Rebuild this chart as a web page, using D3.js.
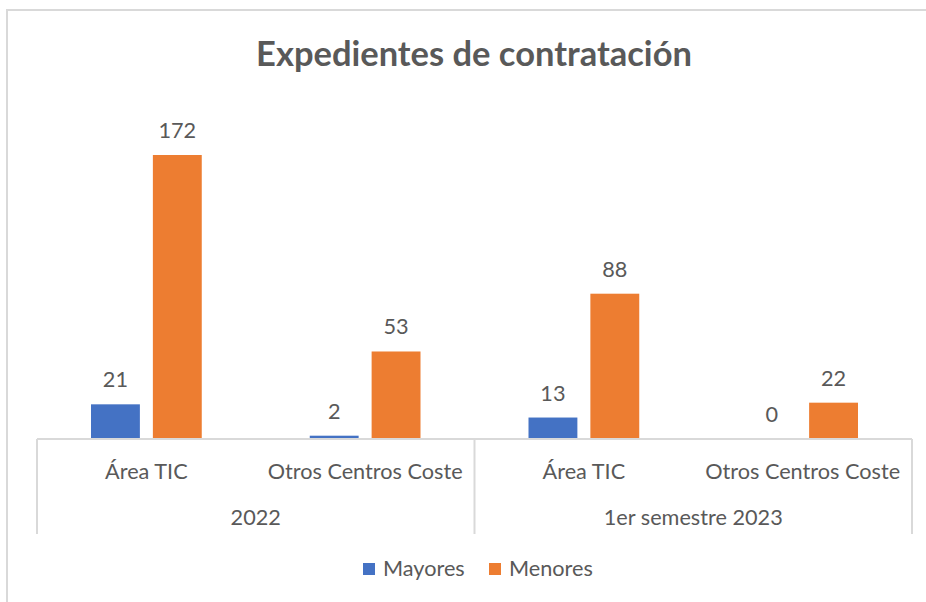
<!DOCTYPE html>
<html><head><meta charset="utf-8">
<script src="https://cdn.jsdelivr.net/npm/d3@7"></script>
<style>body{margin:0;background:#fff}svg{display:block}</style>
</head><body>
<script>
const title = "Expedientes de contratación";
const groups = ["2022", "1er semestre 2023"];
const categories = ["Área TIC", "Otros Centros Coste"];
const seriesNames = ["Mayores", "Menores"];
const mayores = [21, 2, 13, 0];
const menores = [172, 53, 88, 22];
const colors = ["#4472C4", "#ED7D31"];

const W = 926, H = 602;
const font = "Lato, 'Open Sans', sans-serif";
const textColor = "#595959";
const svg = d3.select("body").append("svg").attr("width", W).attr("height", H);

// measure to choose sizes close to the reference text widths
function fitSize(str, targetW, weight) {
  const t = svg.append("text").attr("font-family", font).attr("font-size", 20)
    .attr("font-weight", weight || "normal").text(str);
  const w = t.node().getComputedTextLength();
  t.remove();
  return 20 * targetW / w;
}
const titleSize = fitSize(title, 436, "bold");
const labelSize = fitSize("Otros Centros Coste", 195);

// frame
svg.append("path").attr("d", `M7,${H} V10 H${W}`).attr("fill", "none").attr("stroke", "#D9D9D9").attr("stroke-width", 2);

svg.append("text").attr("x", 474).attr("y", 66).attr("text-anchor", "middle")
  .attr("font-family", font).attr("font-weight", "bold").attr("font-size", titleSize)
  .attr("fill", textColor).text(title);

const left = 37, right = 912, baseY = 439;
const leaves = [];
groups.forEach((g, gi) => categories.forEach((c, ci) => leaves.push({g, c, key: gi + "|" + ci})));

const x0 = d3.scaleBand().domain(leaves.map(d => d.key)).range([left, right]);
const x1 = d3.scaleBand().domain(seriesNames).range([54, x0.bandwidth() - 54]).paddingInner(0.21);
const y = d3.scaleLinear().domain([0, 172]).range([baseY, 155]);

const data = leaves.map((d, i) => ({...d, vals: [mayores[i], menores[i]]}));

const cat = svg.selectAll("g.cat").data(data).join("g").attr("transform", d => `translate(${x0(d.key)},0)`);
cat.selectAll("rect").data(d => d.vals.map((v, k) => ({v, k}))).join("rect")
  .attr("x", d => x1(seriesNames[d.k])).attr("width", x1.bandwidth())
  .attr("y", d => y(d.v)).attr("height", d => baseY - y(d.v)).attr("fill", d => colors[d.k]);
cat.selectAll("text.val").data(d => d.vals.map((v, k) => ({v, k}))).join("text").attr("class", "val")
  .attr("x", d => x1(seriesNames[d.k]) + x1.bandwidth() / 2).attr("y", d => y(d.v) - 17)
  .attr("text-anchor", "middle").attr("font-family", font).attr("font-size", labelSize).attr("fill", textColor)
  .text(d => d.v);

// axis
const ax = svg.append("g").attr("stroke", "#D9D9D9").attr("stroke-width", 2);
ax.append("line").attr("x1", left).attr("x2", right).attr("y1", baseY).attr("y2", baseY);
const gw = (right - left) / groups.length;
d3.range(groups.length + 1).forEach(i => {
  ax.append("line").attr("x1", left + i * gw).attr("x2", left + i * gw).attr("y1", baseY).attr("y2", 534);
});
svg.selectAll("text.cat").data(data).join("text").attr("class", "cat")
  .attr("x", d => x0(d.key) + x0.bandwidth() / 2).attr("y", 479).attr("text-anchor", "middle")
  .attr("font-family", font).attr("font-size", labelSize).attr("fill", textColor).text(d => d.c);
svg.selectAll("text.grp").data(groups).join("text").attr("class", "grp")
  .attr("x", (d, i) => left + (i + 0.5) * gw).attr("y", 525).attr("text-anchor", "middle")
  .attr("font-family", font).attr("font-size", labelSize).attr("fill", textColor).text(d => d);

// legend
const legX = [363, 489];
seriesNames.forEach((s, k) => {
  svg.append("rect").attr("x", legX[k]).attr("y", 563).attr("width", 12).attr("height", 12).attr("fill", colors[k]);
  svg.append("text").attr("x", legX[k] + 20).attr("y", 576).attr("font-family", font).attr("font-size", labelSize)
    .attr("fill", textColor).text(s);
});
</script>
</body></html>
